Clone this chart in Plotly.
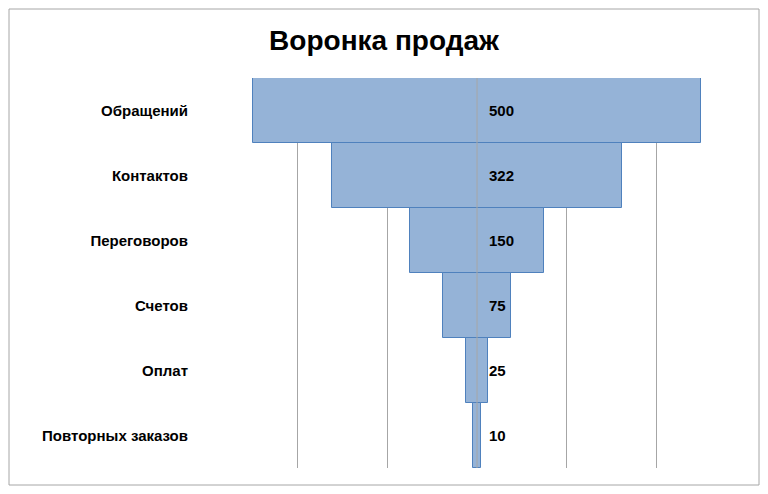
import plotly.graph_objects as go

stages = ["Обращений", "Контактов", "Переговоров", "Счетов", "Оплат", "Повторных заказов"]
values = [500, 322, 150, 75, 25, 10]

W, H = 752, 478
L, R, T, B = 199, 13, 70, 18
pw, ph = W - L - R, H - T - B

fig = go.Figure(go.Bar(
    y=stages, x=values, base=[-v / 2 for v in values], orientation="h",
    marker=dict(color="#95B3D7", line=dict(color="#4F81BD", width=1)),
    hoverinfo="skip", width=1.0))

for s, v in zip(stages, values):
    fig.add_annotation(x=0, y=s, text=f"<b>{v}</b>", showarrow=False,
                       xanchor="left", xshift=10, font=dict(size=15, color="black"))

fig.add_shape(type="line", xref="x", yref="paper", x0=0, x1=0, y0=0, y1=1,
              line=dict(color="#A6A6A6", width=1), layer="above")
fig.add_shape(type="rect", xref="paper", yref="paper",
              x0=-(L - 1) / pw, x1=1 + (R - 1) / pw, y0=-(B - 1) / ph, y1=1 + (T - 1) / ph,
              line=dict(color="#A6A6A6", width=1), layer="below")

fig.update_layout(
    width=W, height=H, margin=dict(l=L, r=R, t=T, b=B),
    paper_bgcolor="white", plot_bgcolor="white", bargap=0, showlegend=False,
    font=dict(family="Liberation Sans, Arial", size=15, color="black"),
    title=dict(text="<b>Воронка продаж</b>", x=0.5, xref="container", y=0.933,
               yanchor="middle", xanchor="center", font=dict(size=28, color="black")),
    xaxis=dict(range=[-300.8, 300.8], dtick=100, tick0=0, showticklabels=False, showgrid=True,
               gridcolor="#A6A6A6", zeroline=False, fixedrange=True),
    yaxis=dict(autorange="reversed", showgrid=False, ticks="", ticklabelstandoff=18,
               tickfont=dict(size=15, family="Liberation Sans, Arial")),
)
fig.update_yaxes(tickprefix="<b>", ticksuffix="</b>")
fig.write_html("out.html")
